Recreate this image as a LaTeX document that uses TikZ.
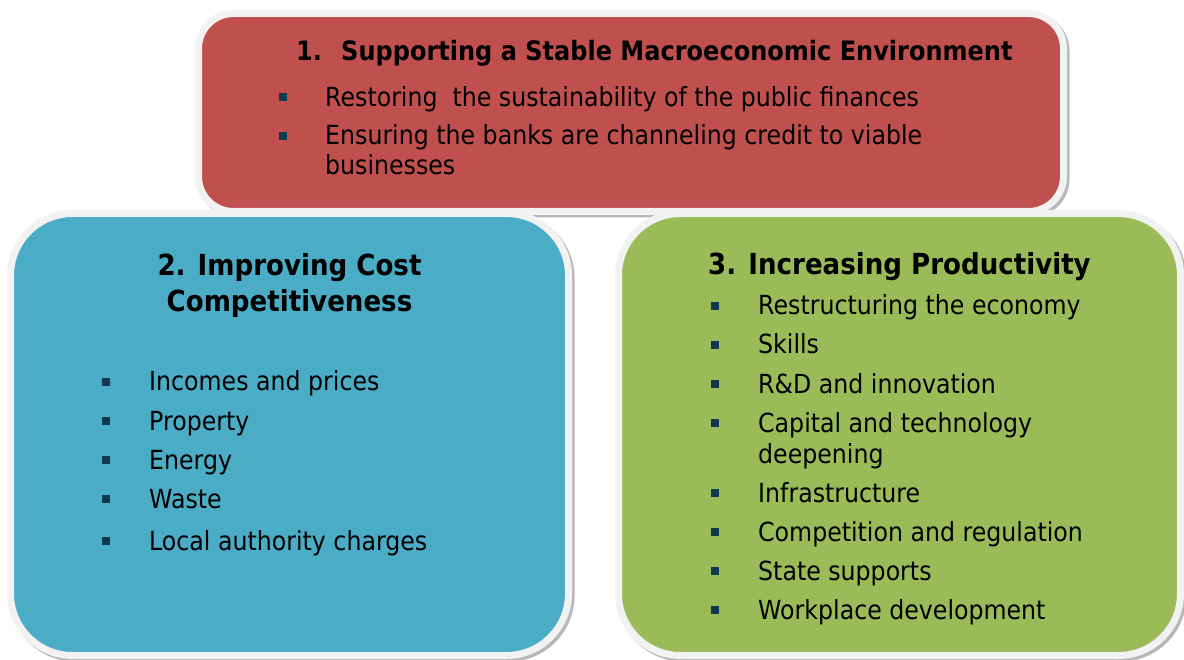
\documentclass[tikz,border=0pt]{standalone}
\usepackage{fontspec}
\setmainfont{DejaVu Sans}[FakeStretch=0.9]
\definecolor{boxred}{HTML}{C0504D}
\definecolor{boxblue}{HTML}{4BACC6}
\definecolor{boxgreen}{HTML}{9BBB59}
\definecolor{rim}{HTML}{F2F2F2}
\definecolor{rimshade}{HTML}{9A9A9A}
\definecolor{bulletc}{HTML}{0F3A50}
\begin{document}
\begin{tikzpicture}[x=1pt,y=-1pt,
  panel/.style={draw=rim, line width=7pt, rounded corners=#1, inner sep=0pt, outer sep=0pt},
  panelshade/.style={draw=rimshade, fill=rimshade, line width=7pt, rounded corners=#1, inner sep=0pt, opacity=0.7},
  txt/.style={anchor=base west, inner sep=0pt, font=\fontsize{26.3}{30}\selectfont},
  head/.style={inner sep=0pt, font=\fontsize{26.7}{30}\selectfont\bfseries},
  bighead/.style={inner sep=0pt, font=\fontsize{29}{33}\selectfont\bfseries},
  sq/.style={fill=bulletc, minimum size=8pt, inner sep=0pt}]
\useasboundingbox (0,0) rectangle (1184,660);

% panel 1: macroeconomic environment
\node[panelshade=35, minimum width=865pt, minimum height=198pt] (p1s) at (633.5,115) {};
\node[panel=35, fill=boxred, minimum width=865pt, minimum height=198pt] (p1) at (631,112.5) {};

% panel 2: cost competitiveness
\node[panelshade=62, minimum width=558pt, minimum height=442pt] (p2s) at (292,437) {};
\node[panel=62, fill=boxblue, minimum width=558pt, minimum height=442pt] (p2) at (289.5,434.5) {};

% panel 3: productivity
\node[panelshade=62, minimum width=562pt, minimum height=442pt] (p3s) at (902,437) {};
\node[panel=62, fill=boxgreen, minimum width=562pt, minimum height=442pt] (p3) at (899.5,434.5) {};

% panel 1 text
\node[head, anchor=base west] (h1n) at (296,61) {1.};
\node[head, anchor=base west] (h1) at (341,61) {Supporting a Stable Macroeconomic Environment};
\node[sq] (b11) at (283,97) {};
\node[txt] (l11) at (325,107) {Restoring\ \ the sustainability of the public finances};
\node[sq] (b12) at (283,136) {};
\node[txt] (l12) at (325,145) {Ensuring the banks are channeling credit to viable};
\node[txt] (l12b) at (325,175) {businesses};

% panel 2 text
\node[bighead, anchor=base] (h2a) at (289.5,276) {2. Improving Cost};
\node[bighead, anchor=base] (h2b) at (289.5,312) {Competitiveness};
\node[sq] (b21) at (106,382) {};
\node[txt] (l21) at (149,391) {Incomes and prices};
\node[sq] (b22) at (106,421) {};
\node[txt] (l22) at (149,430) {Property};
\node[sq] (b23) at (106,460) {};
\node[txt] (l23) at (149,469) {Energy};
\node[sq] (b24) at (106,499) {};
\node[txt] (l24) at (149,508) {Waste};
\node[sq] (b25) at (106,541) {};
\node[txt] (l25) at (149,550) {Local authority charges};

% panel 3 text
\node[bighead, anchor=base west] (h3) at (708,275) {3. Increasing Productivity};
\node[sq] (b31) at (715,306) {};
\node[txt] (l31) at (758,315) {Restructuring the economy};
\node[sq] (b32) at (715,345) {};
\node[txt] (l32) at (758,354) {Skills};
\node[sq] (b33) at (715,384) {};
\node[txt] (l33) at (758,393) {R\&D and innovation};
\node[sq] (b34) at (715,423) {};
\node[txt] (l34) at (758,432) {Capital and technology};
\node[txt] (l34b) at (758,463) {deepening};
\node[sq] (b35) at (715,493) {};
\node[txt] (l35) at (758,502) {Infrastructure};
\node[sq] (b36) at (715,532) {};
\node[txt] (l36) at (758,541) {Competition and regulation};
\node[sq] (b37) at (715,571) {};
\node[txt] (l37) at (758,580) {State supports};
\node[sq] (b38) at (715,610) {};
\node[txt] (l38) at (758,619) {Workplace development};
\end{tikzpicture}
\end{document}
